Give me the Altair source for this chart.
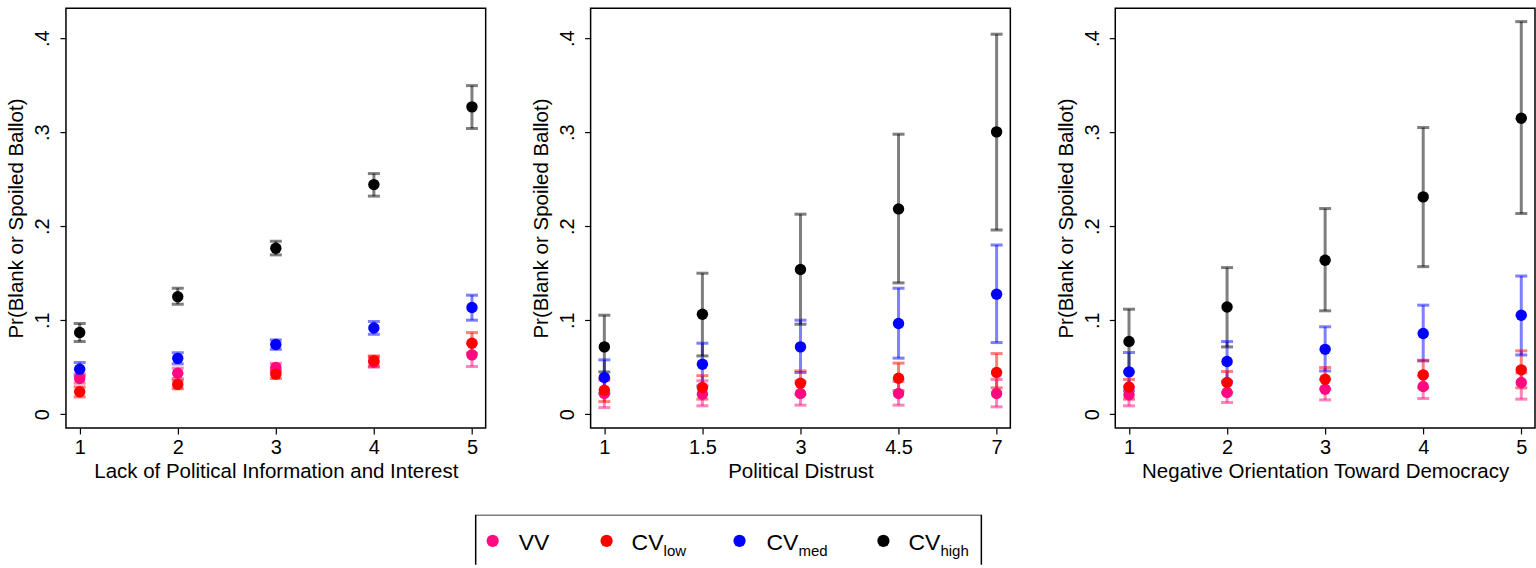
import altair as alt
import pandas as pd

SERIES = ["VV", "CV_low", "CV_med", "CV_high"]
COLORS = ["#ff0a80", "#ff0000", "#0000ff", "#000000"]
LEG_MAIN = ["VV", "CV", "CV", "CV"]
LEG_SUB = ["", "low", "med", "high"]

Y_TITLE = "Pr(Blank or Spoiled Ballot)"

p1_title = "Lack of Political Information and Interest"
p1_xlabels = ["1", "2", "3", "4", "5"]
p1_est = {
    "VV": [0.038, 0.0436, 0.0496, 0.0553, 0.0631],
    "CV_low": [0.0238, 0.0317, 0.0426, 0.0570, 0.0755],
    "CV_med": [0.0479, 0.0594, 0.0741, 0.0918, 0.1135],
    "CV_high": [0.0869, 0.125, 0.1766, 0.2443, 0.327],
}
p1_lo = {
    "VV": [0.033, 0.038, 0.045, 0.050, 0.0507],
    "CV_low": [0.0184, 0.027, 0.038, 0.051, 0.065],
    "CV_med": [0.041, 0.0535, 0.069, 0.085, 0.100],
    "CV_high": [0.0773, 0.117, 0.1695, 0.232, 0.304],
}
p1_hi = {
    "VV": [0.043, 0.049, 0.054, 0.061, 0.0755],
    "CV_low": [0.029, 0.036, 0.047, 0.062, 0.0868],
    "CV_med": [0.055, 0.0654, 0.079, 0.0986, 0.1266],
    "CV_high": [0.0965, 0.134, 0.184, 0.256, 0.3496],
}

p2_title = "Political Distrust"
p2_xlabels = ["1", "1.5", "3", "4.5", "7"]
p2_est = {
    "VV": [0.022, 0.0213, 0.022, 0.022, 0.022],
    "CV_low": [0.0255, 0.0284, 0.033, 0.0383, 0.0443],
    "CV_med": [0.039, 0.0532, 0.0716, 0.0965, 0.1277],
    "CV_high": [0.0716, 0.1064, 0.154, 0.2184, 0.3004],
}
p2_lo = {
    "VV": [0.007, 0.0089, 0.0096, 0.0096, 0.0078],
    "CV_low": [0.0134, 0.016, 0.021, 0.025, 0.028],
    "CV_med": [0.022, 0.030, 0.0443, 0.0596, 0.0762],
    "CV_high": [0.045, 0.062, 0.0957, 0.1397, 0.196],
}
p2_hi = {
    "VV": [0.036, 0.0355, 0.035, 0.035, 0.037],
    "CV_low": [0.038, 0.041, 0.046, 0.0543, 0.0645],
    "CV_med": [0.0578, 0.0755, 0.100, 0.134, 0.180],
    "CV_high": [0.1053, 0.150, 0.2128, 0.2979, 0.4043],
}

p3_title = "Negative Orientation Toward Democracy"
p3_xlabels = ["1", "2", "3", "4", "5"]
p3_est = {
    "VV": [0.0206, 0.023, 0.0266, 0.0294, 0.0337],
    "CV_low": [0.029, 0.0337, 0.0372, 0.0418, 0.0472],
    "CV_med": [0.045, 0.056, 0.069, 0.0858, 0.1053],
    "CV_high": [0.0773, 0.114, 0.1638, 0.2312, 0.3149],
}
p3_lo = {
    "VV": [0.0089, 0.0124, 0.0152, 0.0167, 0.016],
    "CV_low": [0.016, 0.023, 0.027, 0.028, 0.028],
    "CV_med": [0.025, 0.035, 0.046, 0.0567, 0.063],
    "CV_high": [0.045, 0.0716, 0.110, 0.157, 0.2135],
}
p3_hi = {
    "VV": [0.029, 0.034, 0.037, 0.041, 0.044],
    "CV_low": [0.037, 0.0454, 0.0496, 0.0574, 0.0674],
    "CV_med": [0.0656, 0.0773, 0.093, 0.116, 0.147],
    "CV_high": [0.1117, 0.156, 0.2188, 0.305, 0.4177],
}

FONT = "Liberation Sans"
FS = 20
TFS = 20.5
PW, PH = 420, 420

color_scale = alt.Scale(domain=SERIES, range=COLORS)


def panel(title, xlabels, est, lo, hi):
    rows = []
    for s in SERIES:
        for i in range(len(xlabels)):
            rows.append(dict(series=s, pos=i + 1, est=est[s][i], lo=lo[s][i], hi=hi[s][i]))
    df = pd.DataFrame(rows)
    lab_arr = "[" + ",".join("'%s'" % l for l in xlabels) + "]"
    x = alt.X(
        "pos:Q",
        scale=alt.Scale(domain=[0.86, len(xlabels) + 0.14], nice=False, zero=False),
        axis=alt.Axis(values=list(range(1, len(xlabels) + 1)),
                      labelExpr=lab_arr + "[datum.value-1]", title=title),
    )
    yscale = alt.Scale(domain=[-0.0146, 0.432], nice=False, zero=False)
    yaxis = alt.Axis(values=[0, 0.1, 0.2, 0.3, 0.4], title=Y_TITLE,
                     labelExpr="datum.value == 0 ? '0' : replace(format(datum.value, '.1f'), '0.', '.')",
                     labelAngle=270)
    col = alt.Color("series:N", scale=color_scale, legend=None)
    base = alt.Chart(df)
    rule = base.mark_rule(strokeWidth=3, opacity=0.5).encode(
        x=x, y=alt.Y("lo:Q", scale=yscale, axis=yaxis), y2="hi:Q", color=col)
    cap_lo = base.mark_tick(orient="horizontal", size=12, thickness=3, opacity=0.5).encode(
        x=x, y=alt.Y("lo:Q", scale=yscale, axis=yaxis), color=col)
    cap_hi = base.mark_tick(orient="horizontal", size=12, thickness=3, opacity=0.5).encode(
        x=x, y=alt.Y("hi:Q", scale=yscale, axis=yaxis), color=col)
    pts = base.mark_circle(size=130, opacity=1).encode(
        x=x, y=alt.Y("est:Q", scale=yscale, axis=yaxis), color=col)
    return alt.layer(rule, cap_lo, cap_hi, pts).properties(
        width=PW, height=PH,
        view=alt.ViewBackground(stroke="black", strokeWidth=1.5, fill="white"),
    )


c1 = panel(p1_title, p1_xlabels, p1_est, p1_lo, p1_hi)
c2 = panel(p2_title, p2_xlabels, p2_est, p2_lo, p2_hi)
c3 = panel(p3_title, p3_xlabels, p3_est, p3_lo, p3_hi)

# ---- legend (drawn manually so the labels can carry subscripts)
LEG_W, LEG_H = 1400, 50
BOX_X0, BOX_X1 = 410, 916
LEG_DOT_X = [427, 541, 674, 818]
TEXT_DX = [26, 25, 27, 25]
SUB_DX = 32

leg_df = pd.DataFrame({
    "series": SERIES,
    "main": LEG_MAIN,
    "sub": LEG_SUB,
    "dot_x": LEG_DOT_X,
})
leg_df["text_x"] = leg_df["dot_x"] + pd.Series(TEXT_DX)
leg_df["sub_x"] = leg_df["text_x"] + SUB_DX

box = alt.Chart(pd.DataFrame({"a": [0]})).mark_rect(
    fill="white", stroke="black", strokeWidth=1.5, clip=True).encode(
    x=alt.value(BOX_X0), x2=alt.value(BOX_X1), y=alt.value(0), y2=alt.value(LEG_H + 10))
lbase = alt.Chart(leg_df)
dots = lbase.mark_circle(size=150, opacity=1).encode(
    x=alt.X("dot_x:Q", scale=None), y=alt.value(26),
    color=alt.Color("series:N", scale=color_scale, legend=None))
mains = lbase.mark_text(align="left", baseline="alphabetic", font=FONT, fontSize=23, color="black").encode(
    x=alt.X("text_x:Q", scale=None), y=alt.value(35), text="main:N")
subs = lbase.mark_text(align="left", baseline="alphabetic", font=FONT, fontSize=15, color="black").encode(
    x=alt.X("sub_x:Q", scale=None), y=alt.value(41), text="sub:N")
legend = alt.layer(box, dots, mains, subs).properties(
    width=LEG_W, height=LEG_H,
    view=alt.ViewBackground(stroke="transparent"),
)

chart = alt.vconcat(
    alt.hconcat(c1, c2, c3, spacing=44),
    legend,
    spacing=30,
).properties(
    padding={"left": 6, "top": 7, "right": 0, "bottom": 0},
    background="white",
).configure_axis(
    domain=False, grid=False, tickColor="black", tickSize=6, tickWidth=1.2,
    labelFont=FONT, labelFontSize=FS, labelColor="black", labelPadding=4,
    titleFont=FONT, titleFontSize=TFS, titleFontWeight="normal", titleColor="black",
).configure_axisX(titlePadding=4).configure_axisY(titlePadding=6, labelPadding=7)

chart.save("out.html", embed_options={"renderer": "svg", "actions": False})
